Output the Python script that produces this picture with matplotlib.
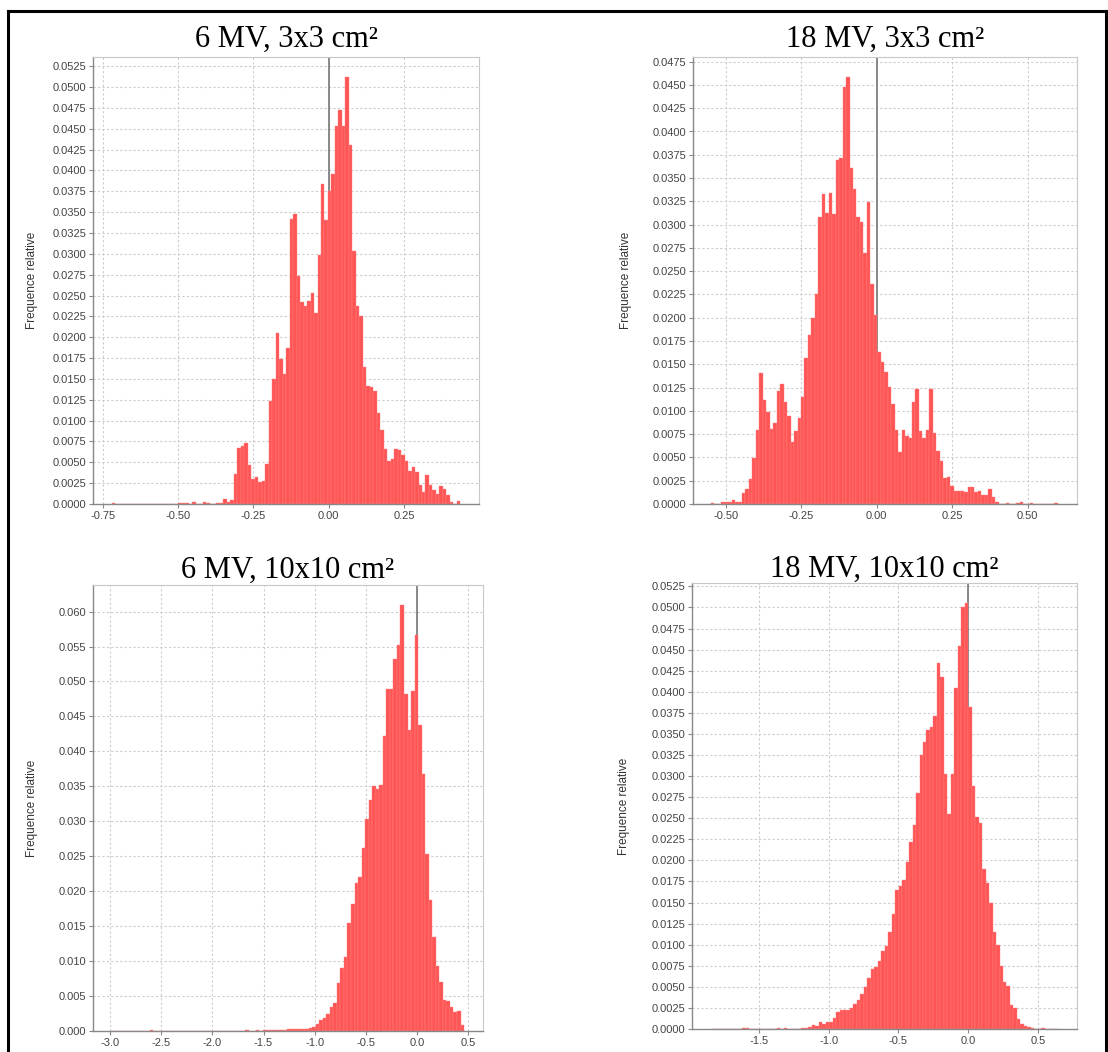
import numpy as np
import matplotlib
matplotlib.use("Agg")
import matplotlib.pyplot as plt
from matplotlib.lines import Line2D
from matplotlib.ticker import FixedLocator, FormatStrFormatter

plt.rcParams['axes.unicode_minus'] = False

# ---------------- data ----------------
titles = ["6 MV, 3x3 cm²", "18 MV, 3x3 cm²", "6 MV, 10x10 cm²", "18 MV, 10x10 cm²"]
ylabel = "Frequence relative"

# histogram bins: start and width of 100 bins
bin_start = [-0.72, -0.55, -2.993, -1.8426]
bin_width = [0.01157, 0.0115, 0.03453, 0.0249]

freq_6mv_3x3 = [
    0.0001, 0, 0, 0, 0, 0, 0, 0, 0, 0,
    0, 0, 0, 0, 0, 0, 0, 0, 0, 0.0001,
    0.0001, 0.0001, 0, 0.0002, 0, 0, 0.0002, 0.0001, 0, 0,
    0.0001, 0.0001, 0.0006, 0.0002, 0.0005, 0.0036, 0.0067, 0.0069, 0.0073, 0.0047,
    0.0030, 0.0032, 0.0026, 0.0027, 0.0048, 0.0124, 0.0150, 0.0205, 0.0174, 0.0156,
    0.0187, 0.0342, 0.0348, 0.0273, 0.0242, 0.0237, 0.0243, 0.0253, 0.0229, 0.0298,
    0.0384, 0.0340, 0.0375, 0.0396, 0.0453, 0.0473, 0.0453, 0.0512, 0.0431, 0.0303,
    0.0238, 0.0225, 0.0164, 0.0141, 0.0140, 0.0135, 0.0109, 0.0089, 0.0066, 0.0052,
    0.0054, 0.0066, 0.0065, 0.0059, 0.0051, 0.0039, 0.0044, 0.0038, 0.0023, 0.0014,
    0.0035, 0.0023, 0.0017, 0.0012, 0.0022, 0.0018, 0.0011, 0.0002, 0.0, 0.0003,
]

freq_18mv_3x3 = [
    0.0001, 0, 0, 0.0002, 0.00025, 0.0002, 0.0004, 0.00025, 0.00025, 0.0012,
    0.0016, 0.0027, 0.0049, 0.0080, 0.0141, 0.0112, 0.0099, 0.0081, 0.0087, 0.0121,
    0.0129, 0.0109, 0.0094, 0.0067, 0.0078, 0.0092, 0.0115, 0.0157, 0.0181, 0.0200,
    0.0225, 0.0308, 0.0333, 0.0312, 0.0334, 0.0311, 0.0369, 0.0372, 0.0448, 0.0458,
    0.0361, 0.0338, 0.0308, 0.0303, 0.0270, 0.0324, 0.0236, 0.0203, 0.0163, 0.0153,
    0.0142, 0.0126, 0.0107, 0.0079, 0.0056, 0.0080, 0.0073, 0.0071, 0.0110, 0.0124,
    0.0078, 0.0071, 0.0079, 0.0124, 0.0076, 0.0057, 0.0046, 0.0028, 0.0029, 0.0019,
    0.0014, 0.0014, 0.0014, 0.0013, 0.0018, 0.0018, 0.0013, 0.0014, 0.0010, 0.0010,
    0.0016, 0.0007, 0.0002, 0, 0, 0.0001, 0, 0, 0.0001, 0.0002,
    0, 0, 0.0001, 0, 0, 0, 0, 0, 0, 0.0001,
]

freq_6mv_10x10 = [
    0, 0, 0, 0, 0, 0, 0, 0, 0, 0,
    0, 0.0001, 0, 0, 0, 0, 0, 0, 0, 0,
    0, 0, 0, 0, 0, 0, 0, 0, 0, 0,
    0, 0, 0, 0, 0, 0, 0, 0, 0.0002, 0,
    0, 0.0001, 0, 0.0001, 0.0001, 0.0001, 0.0001, 0.0001, 0.0001, 0.0001,
    0.0003, 0.0003, 0.0003, 0.0003, 0.0003, 0.0003, 0.0005, 0.0006, 0.0010, 0.0016,
    0.0019, 0.0024, 0.0034, 0.0040, 0.0069, 0.0090, 0.0106, 0.0154, 0.0181, 0.0212,
    0.0220, 0.0262, 0.0303, 0.0330, 0.0351, 0.0346, 0.0352, 0.0422, 0.0489, 0.0489,
    0.0532, 0.0552, 0.0610, 0.0482, 0.0431, 0.0486, 0.0567, 0.0438, 0.0368, 0.0253,
    0.0188, 0.0134, 0.0093, 0.0070, 0.0045, 0.0043, 0.0034, 0.0027, 0.0028, 0.0009,
]

freq_18mv_10x10 = [
    0, 0, 0, 0, 0, 0, 0, 0, 0, 0.0001,
    0.0001, 0, 0, 0, 0, 0, 0, 0, 0, 0.0001,
    0, 0.0001, 0, 0, 0, 0, 0.0001, 0.0001, 0.0002, 0.0005,
    0.0004, 0.0008, 0.0006, 0.0008, 0.0008, 0.0013, 0.0020, 0.0022, 0.0022, 0.0023,
    0.0025, 0.0030, 0.0034, 0.0042, 0.0050, 0.0060, 0.0071, 0.0074, 0.0081, 0.0093,
    0.0099, 0.0115, 0.0136, 0.0165, 0.0170, 0.0177, 0.0198, 0.0222, 0.0242, 0.0280,
    0.0325, 0.0341, 0.0355, 0.0358, 0.0371, 0.0434, 0.0417, 0.0302, 0.0255, 0.0302,
    0.0405, 0.0454, 0.0500, 0.0505, 0.0382, 0.0288, 0.0251, 0.0244, 0.0190, 0.0173,
    0.0150, 0.0115, 0.0100, 0.0075, 0.0056, 0.0051, 0.0029, 0.0025, 0.0012, 0.0006,
    0.0003, 0.0002, 0.0001, 0, 0, 0.0001, 0, 0, 0, 0,
]

series = [freq_6mv_3x3, freq_18mv_3x3, freq_6mv_10x10, freq_18mv_10x10]

x_ticks = [[-0.75, -0.50, -0.25, 0.00, 0.25],
           [-0.50, -0.25, 0.00, 0.25, 0.50],
           [-3.0, -2.5, -2.0, -1.5, -1.0, -0.5, 0.0, 0.5],
           [-1.5, -1.0, -0.5, 0.0, 0.5]]
x_fmt = ['%.2f', '%.2f', '%.1f', '%.1f']
y_step = [0.0025, 0.0025, 0.005, 0.0025]
y_max_tick = [0.0525, 0.0475, 0.060, 0.0525]
y_fmt = ['%.4f', '%.4f', '%.3f', '%.4f']

# ---------------- layout ----------------
W, H = 1108, 1052
# axes boxes in pixels: left, top, right, bottom
boxes = [(93, 57, 479, 504), (693, 57, 1077, 504),
         (93, 585, 483, 1031), (692, 583, 1077, 1029)]
xlims = [(-0.783, 0.499), (-0.609, 0.664), (-3.167, 0.645), (-1.978, 0.779)]
ylims = [0.0536, 0.0480, 0.0638, 0.0529]
ylabel_px = [38, 632, 38, 630]
title_base = [47, 47, 578, 577]

fig = plt.figure(figsize=(W / 100, H / 100), dpi=100)
fig.patch.set_facecolor('white')

bar_color = '#ff5555'
grid_color = '#cccccc'

for k in range(4):
    l, t, r, b = boxes[k]
    ax = fig.add_axes([l / W, 1 - b / H, (r - l) / W, (b - t) / H])
    heights = np.array(series[k])
    lefts = bin_start[k] + bin_width[k] * np.arange(len(heights))
    ax.axvline(0.0, color='#808080', lw=1.3, zorder=1)
    ax.bar(lefts, heights, width=bin_width[k], align='edge', color=bar_color,
           edgecolor='#ff8585', linewidth=0.3, zorder=2)
    ax.set_xlim(*xlims[k])
    ax.set_ylim(0, ylims[k])
    ax.xaxis.set_major_locator(FixedLocator(x_ticks[k]))
    ax.xaxis.set_major_formatter(FormatStrFormatter(x_fmt[k]))
    n = int(round(y_max_tick[k] / y_step[k]))
    ax.yaxis.set_major_locator(FixedLocator([i * y_step[k] for i in range(n + 1)]))
    ax.yaxis.set_major_formatter(FormatStrFormatter(y_fmt[k]))
    ax.grid(True, color=grid_color, linestyle=(0, (2, 2)), linewidth=0.8, zorder=0)
    ax.set_axisbelow(True)
    for s in ['top', 'right']:
        ax.spines[s].set_color('#c8c8c8')
        ax.spines[s].set_linewidth(0.8)
    for s in ['left', 'bottom']:
        ax.spines[s].set_color('#888888')
        ax.spines[s].set_linewidth(1.0)
    ax.tick_params(axis='both', length=3, width=0.8, color='#888888',
                   labelsize=8, labelcolor='#444444', pad=2)
    for lab in ax.get_xticklabels() + ax.get_yticklabels():
        lab.set_family('Liberation Sans')
    ax.set_ylabel(ylabel, fontsize=8.5, family='Liberation Sans', color='#333333')
    ax.yaxis.set_label_coords((ylabel_px[k] - l) / (r - l), 0.5)
    cx = (l + r) / 2 / W
    fig.text(cx, 1 - title_base[k] / H, titles[k], ha='center', va='baseline',
             fontsize=22, family='Liberation Serif', color='black')

# outer frame
frame_kw = dict(color='black', lw=2.2, transform=fig.transFigure)
fig.add_artist(Line2D([8 / W, 8 / W], [1 - 11 / H, 0], **frame_kw))
fig.add_artist(Line2D([8 / W, 1106 / W], [1 - 11 / H, 1 - 11 / H], **frame_kw))
fig.add_artist(Line2D([1106 / W, 1106 / W], [1 - 11 / H, 0], **frame_kw))

fig.savefig('out.png', dpi=100, facecolor='white')
